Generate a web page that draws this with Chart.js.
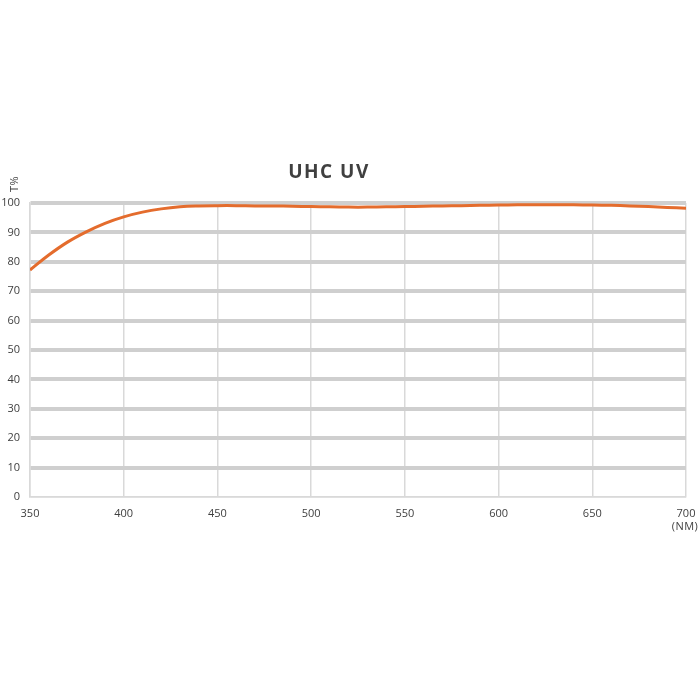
<!DOCTYPE html>
<html>
<head>
<meta charset="utf-8">
<script src="https://cdn.jsdelivr.net/npm/chart.js@4"></script>
<style>
  html, body { margin: 0; padding: 0; background: #fff; }
  #wrap { width: 700px; height: 700px; }
</style>
</head>
<body>
<div id="wrap"><canvas id="uvChart" width="700" height="700"></canvas></div>
<script>
// wavelength (nm) and transmission (%)
const wavelengths = [350, 360, 370, 380, 390, 400, 410, 420, 430, 440, 450, 460, 470, 480, 490, 500,
    510, 520, 530, 540, 550, 560, 570, 580, 590, 600, 610, 620, 630, 640, 650, 660, 670, 680, 690, 700];
const transmission = [77.2, 82.3, 86.7, 90.2, 93.1, 95.3, 96.9, 98.0, 98.7, 99.0, 99.1, 99.1, 99.0, 99.0, 98.9, 98.8,
    98.7, 98.6, 98.6, 98.7, 98.8, 98.9, 99.0, 99.1, 99.2, 99.3, 99.4, 99.4, 99.4, 99.4, 99.3, 99.2, 99.0, 98.8, 98.5, 98.2];
const xTicks = [350, 400, 450, 500, 550, 600, 650, 700];
const yTicks = [0, 10, 20, 30, 40, 50, 60, 70, 80, 90, 100];

const points = wavelengths.map((w, i) => ({ x: w, y: transmission[i] }));

// extra labels: title, axis units
const labelsPlugin = {
    id: 'labels',
    afterDraw(chart) {
        const ctx = chart.ctx;
        const area = chart.chartArea;
        ctx.save();
        ctx.fillStyle = '#404040';
        ctx.font = 'bold 19px "Open Sans", sans-serif';
        ctx.letterSpacing = '1.5px';
        ctx.textAlign = 'center';
        ctx.textBaseline = 'middle';
        ctx.fillText('UHC UV', 329, 173);
        ctx.letterSpacing = '0.5px';

        ctx.fillStyle = '#404040';
        ctx.font = '11px "Open Sans", sans-serif';
        ctx.fillText('(NM)', area.right - 1, area.bottom + 30);

        ctx.translate(15, 184);
        ctx.rotate(-Math.PI / 2);
        ctx.fillText('T%', 0, 0);
        ctx.restore();
    }
};

const uvCtx = document.getElementById('uvChart').getContext('2d');
const uvChart = new Chart(uvCtx, {
    type: 'line',
    data: {
        datasets: [{
            label: 'UHC UV',
            data: points,
            borderColor: 'rgb(228, 108, 45)',
            borderWidth: 3,
            pointRadius: 0,
            tension: 0.4,
            fill: false
        }]
    },
    options: {
        responsive: false,
        animation: false,
        layout: { padding: { left: 0, top: 203, right: 14, bottom: 173 } },
        plugins: {
            legend: { display: false },
            tooltip: { enabled: false }
        },
        scales: {
            x: {
                type: 'linear',
                min: 350,
                max: 700,
                afterBuildTicks: (scale) => { scale.ticks = xTicks.map(v => ({ value: v })); },
                afterFit: (scale) => {
                    scale.height = 30;
                    scale.paddingLeft = 0;
                    scale.paddingRight = 0;
                },
                grid: { color: '#d9d9d9', lineWidth: 1.5, drawTicks: false },
                border: { color: '#d9d9d9', width: 1.5 },
                ticks: { color: '#404040', font: { size: 11, family: '"Open Sans", sans-serif' }, padding: 10, maxRotation: 0 }
            },
            y: {
                min: 0,
                max: 100,
                afterBuildTicks: (scale) => { scale.ticks = yTicks.map(v => ({ value: v })); },
                afterFit: (scale) => {
                    scale.width = 30;
                    scale.paddingTop = 0;
                    scale.paddingBottom = 0;
                },
                grid: {
                    color: '#cfcfcf',
                    lineWidth: (c) => (c.tick && c.tick.value === 0 ? 1.5 : 4),
                    drawTicks: false
                },
                border: { color: '#d9d9d9', width: 1.5 },
                ticks: { color: '#404040', font: { size: 11, family: '"Open Sans", sans-serif' }, padding: 10 }
            }
        }
    },
    plugins: [labelsPlugin]
});
</script>
</body>
</html>
